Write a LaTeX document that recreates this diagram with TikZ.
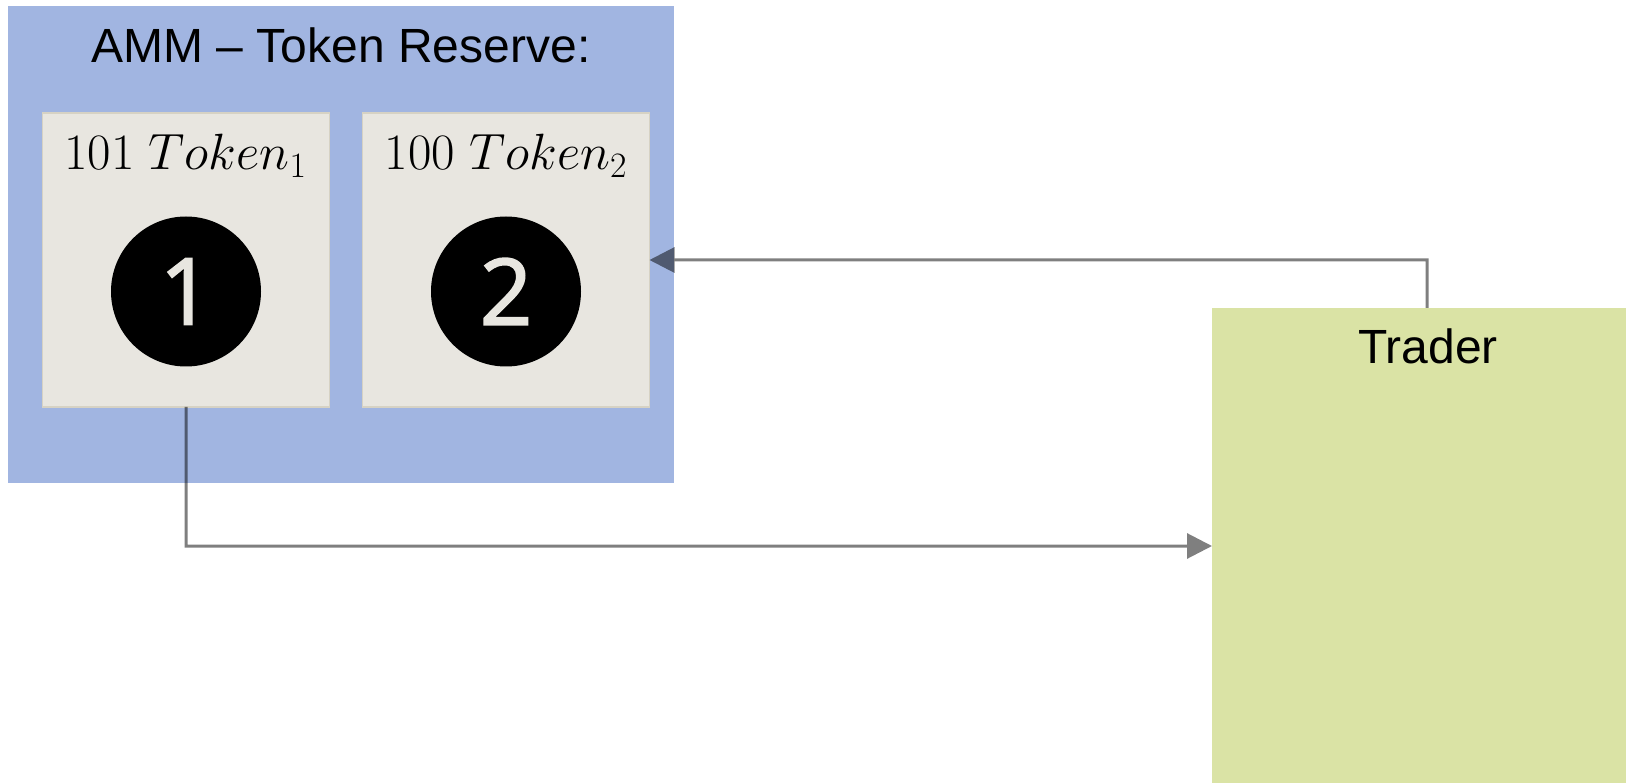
\documentclass[tikz,border=0pt]{standalone}
\usepackage{fix-cm}
\usepackage{fontspec}
\newfontfamily\arialfont{Liberation Sans}
\newfontfamily\digitfont{Open Sans}[FakeBold=2]
\usetikzlibrary{arrows.meta}
\definecolor{ammblue}{HTML}{A1B5E1}
\definecolor{tokenfill}{HTML}{E8E6E0}
\definecolor{tokenborder}{HTML}{D6D2C4}
\definecolor{traderfill}{HTML}{DAE3A5}
\begin{document}
\begin{tikzpicture}[x=1pt,y=-1pt,
  panel/.style={rectangle, inner sep=0pt, outer sep=0pt, anchor=north west},
  ammbox/.style={panel, fill=ammblue},
  tokenbox/.style={panel, fill=tokenfill, draw=tokenborder, line width=1.5pt},
  traderbox/.style={panel, fill=traderfill},
  sanslabel/.style={anchor=base, inner sep=0pt, font=\arialfont\fontsize{48}{58}\selectfont},
  mathlabel/.style={anchor=base, inner sep=0pt, font=\fontsize{51}{60}\selectfont},
  numdisc/.style={circle, fill=black, minimum size=150pt, inner sep=0pt, text=tokenfill, font=\digitfont\fontsize{92}{100}\selectfont},
  flow/.style={draw=black, line width=3pt, -{Triangle[length=25pt,width=25pt]}}
]
\useasboundingbox (0,0) rectangle (1626,783);
\fill[white] (0,0) rectangle (1626,783);

\node[ammbox, minimum width=666pt, minimum height=477pt] (amm) at (8,6) {};
\node[sanslabel] (ammtitle) at (341,63) {AMM – Token Reserve:};

\node[tokenbox, minimum width=287pt, minimum height=294pt] (box1) at (42.5,113) {};
\node[tokenbox, minimum width=287pt, minimum height=294pt] (box2) at (362.5,113) {};

\node[mathlabel] (tok1) at (185.5,169.5) {$101\;Token_1$};
\node[mathlabel] (tok2) at (506,169.5) {$100\;Token_2$};

\node[numdisc] (disc1) at (186,291.5) {1};
\node[numdisc] (disc2) at (506,291.5) {2};

\node[traderbox, minimum width=430pt, minimum height=476pt] (trader) at (1212,308) {};
\node[sanslabel] (tradertitle) at (1428,364) {Trader};

\begin{scope}[transparency group, opacity=0.5]
\draw[flow] (trader.north) |- (box2.east);
\draw[flow] (box1.south) |- (trader.west);
\end{scope}
\end{tikzpicture}
\end{document}
